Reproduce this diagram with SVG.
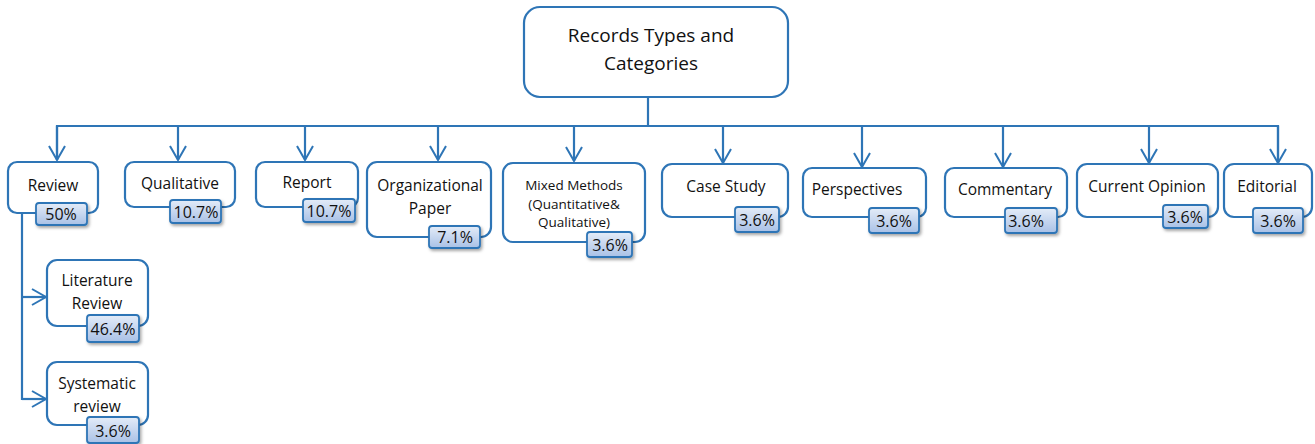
<svg xmlns="http://www.w3.org/2000/svg" width="1315" height="444" viewBox="0 0 1315 444">
<defs>
<linearGradient id="bg" x1="0" y1="0" x2="0" y2="1">
<stop offset="0" stop-color="#e4ecf8"/>
<stop offset="1" stop-color="#a9c1e6"/>
</linearGradient>
<filter id="sh" x="-20%" y="-20%" width="150%" height="160%">
<feDropShadow dx="1.5" dy="2" stdDeviation="1.5" flood-color="#000" flood-opacity="0.35"/>
</filter>
<marker id="ah" markerWidth="20" markerHeight="20" viewBox="0 0 20 20" refX="18" refY="10" orient="auto" markerUnits="userSpaceOnUse">
<path d="M4,2 L18,10 L4,18" fill="none" stroke="#2e75b6" stroke-width="2"/>
</marker>
<style>
.box{fill:#fff;stroke:#2e75b6;stroke-width:2.2}
.badge{fill:url(#bg);stroke:#2e75b6;stroke-width:1.8;filter:url(#sh)}
.t{font-family:"Open Sans","Liberation Sans",sans-serif;font-size:15.5px;fill:#111;text-anchor:middle}
.s{font-size:13.5px}
.r{font-size:19px}
.p{font-family:"Open Sans","Liberation Sans",sans-serif;font-size:16px;fill:#111;text-anchor:middle}
.c{fill:none;stroke:#2e75b6;stroke-width:2.2}
</style>
</defs>
<g id="connectors">
<path class="c" d="M648,97 V126"/>
<path class="c" d="M57,160 V126 H1278 V160"/>
<path class="c" d="M178,126 V160" marker-end="url(#ah)"/>
<path class="c" d="M57,126 V160" marker-end="url(#ah)"/>
<path class="c" d="M305,126 V160" marker-end="url(#ah)"/>
<path class="c" d="M438,126 V160" marker-end="url(#ah)"/>
<path class="c" d="M574,126 V161" marker-end="url(#ah)"/>
<path class="c" d="M723,126 V163" marker-end="url(#ah)"/>
<path class="c" d="M862,126 V167" marker-end="url(#ah)"/>
<path class="c" d="M1003,126 V167" marker-end="url(#ah)"/>
<path class="c" d="M1149,126 V163" marker-end="url(#ah)"/>
<path class="c" d="M1278,126 V163" marker-end="url(#ah)"/>
<path class="c" d="M22,213 V400"/>
<path class="c" d="M22,297 H46" marker-end="url(#ah)"/>
<path class="c" d="M22,399 H46" marker-end="url(#ah)"/>
</g>
<g id="root">
<rect class="box" x="524" y="7" width="264" height="90" rx="16"/>
<text class="t r" x="651" y="42">Records Types and</text>
<text class="t r" x="651" y="70">Categories</text>
</g>
<g id="review">
<rect class="box" x="8" y="162" width="90" height="51" rx="9"/>
<text class="t" x="53" y="191">Review</text>
<rect class="badge" x="36" y="203" width="51" height="22" rx="3"/>
<text class="p" x="61" y="220">50%</text>
</g>
<g id="qualitative">
<rect class="box" x="125" y="162" width="110" height="45" rx="9"/>
<text class="t" x="180" y="189">Qualitative</text>
<rect class="badge" x="170" y="200" width="51" height="23" rx="3"/>
<text class="p" x="196" y="218">10.7%</text>
</g>
<g id="report">
<rect class="box" x="256" y="162" width="102" height="45" rx="9"/>
<text class="t" x="307" y="188">Report</text>
<rect class="badge" x="303" y="199" width="52" height="23" rx="3"/>
<text class="p" x="329" y="217">10.7%</text>
</g>
<g id="organizational">
<rect class="box" x="367" y="162" width="124" height="75" rx="10"/>
<text class="t" x="430" y="191">Organizational</text>
<text class="t" x="430" y="214">Paper</text>
<rect class="badge" x="429" y="226" width="51" height="22" rx="3"/>
<text class="p" x="455" y="243">7.1%</text>
</g>
<g id="mixed">
<rect class="box" x="503" y="163" width="142" height="79" rx="10"/>
<text class="t s" x="574" y="190">Mixed Methods</text>
<text class="t s" x="574" y="209">(Quantitative&amp;</text>
<text class="t s" x="574" y="227">Qualitative)</text>
<rect class="badge" x="587" y="232" width="45" height="25" rx="3"/>
<text class="p" x="610" y="251">3.6%</text>
</g>
<g id="casestudy">
<rect class="box" x="662" y="164" width="126" height="53" rx="10"/>
<text class="t" x="726" y="192">Case Study</text>
<rect class="badge" x="735" y="207" width="44" height="25" rx="3"/>
<text class="p" x="757" y="226">3.6%</text>
</g>
<g id="perspectives">
<rect class="box" x="803" y="168" width="123" height="49" rx="9"/>
<text class="t" x="857" y="195">Perspectives</text>
<rect class="badge" x="869" y="208" width="50" height="25" rx="3"/>
<text class="p" x="894" y="227">3.6%</text>
</g>
<g id="commentary">
<rect class="box" x="945" y="168" width="122" height="49" rx="9"/>
<text class="t" x="1005" y="195">Commentary</text>
<rect class="badge" x="1005" y="208" width="52" height="25" rx="3"/>
<text class="p" x="1026" y="227">3.6%</text>
</g>
<g id="currentopinion">
<rect class="box" x="1077" y="164" width="141" height="53" rx="10"/>
<text class="t" x="1147" y="192">Current Opinion</text>
<rect class="badge" x="1163" y="205" width="45" height="23" rx="3"/>
<text class="p" x="1185" y="223">3.6%</text>
</g>
<g id="editorial">
<rect class="box" x="1224" y="164" width="88" height="53" rx="10"/>
<text class="t" x="1267" y="192">Editorial</text>
<rect class="badge" x="1253" y="208" width="50" height="25" rx="3"/>
<text class="p" x="1278" y="227">3.6%</text>
</g>
<g id="literature">
<rect class="box" x="47" y="260" width="101" height="66" rx="10"/>
<text class="t" x="97" y="286">Literature</text>
<text class="t" x="97" y="309">Review</text>
<rect class="badge" x="87" y="315" width="52" height="27" rx="3"/>
<text class="p" x="113" y="335">46.4%</text>
</g>
<g id="systematic">
<rect class="box" x="47" y="362" width="101" height="63" rx="10"/>
<text class="t" x="97" y="389">Systematic</text>
<text class="t" x="97" y="412">review</text>
<rect class="badge" x="87" y="417" width="52" height="26" rx="3"/>
<text class="p" x="113" y="437">3.6%</text>
</g>
</svg>
